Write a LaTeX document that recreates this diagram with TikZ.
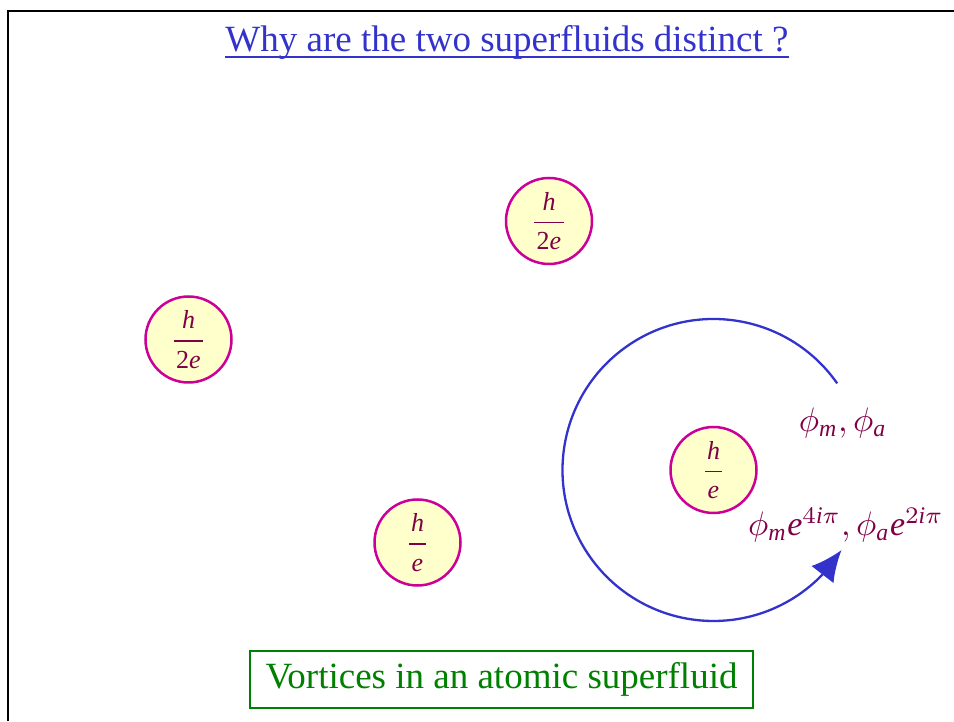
\documentclass[tikz,border=0pt]{standalone}
\usepackage{graphicx}
\usepackage{fontspec}
\usepackage{amsmath}
\setmainfont{Liberation Serif}
\usetikzlibrary{arrows.meta,bending}
\definecolor{titleblue}{RGB}{51,51,204}
\definecolor{maroon}{RGB}{128,0,70}
\definecolor{vborder}{RGB}{204,0,153}
\definecolor{vfill}{RGB}{255,255,204}
\definecolor{boxgreen}{RGB}{0,128,0}
\newcommand{\vortfrac}[2]{\scalebox{2.6}{$\displaystyle\genfrac{}{}{0.65pt}{0}{\raisebox{0.5pt}{\makebox[#1]{\textit{h}}}}{\raisebox{-1.1pt}{\makebox[#1]{#2}}}$}}
\newcommand{\biglbl}[1]{\scalebox{3.4}{$#1$}}
\begin{document}
\begin{tikzpicture}[x=1pt,y=1pt,
  vortex/.style={circle,draw=vborder,fill=vfill,line width=2.5pt,minimum size=86pt,inner sep=0pt,text=maroon,font=\fontsize{10}{12}\selectfont},
  lbl/.style={text=maroon,font=\fontsize{10}{12}\selectfont,inner sep=0pt},
  bigtext/.style={font=\fontsize{37}{44}\selectfont},
  frameline/.style={line width=2pt,black}]
\useasboundingbox (0,0) rectangle (954,721);
% frame
\coordinate (fbl) at (8,0);
\coordinate (ftl) at (8,710);
\coordinate (ftr) at (954,710);
\draw[frameline] (fbl) -- (ftl) -- (ftr);
% title
\node[anchor=base,inner sep=0pt,text=titleblue,bigtext] (title) at (507,669) {Why are the two superfluids distinct ?};
\draw[titleblue,line width=1.8pt] ([yshift=-5pt]title.base west) -- ([yshift=-5pt]title.base east);
% vortices
\node[vortex] (v1) at (549,500) {\vortfrac{11.2pt}{2\textit{e}}};
\node[vortex] (v2) at (188.5,381.5) {\vortfrac{11.2pt}{2\textit{e}}};
\node[vortex] (v3) at (417.5,178.5) {\vortfrac{6.2pt}{\textit{e}}};
\node[vortex] (v4) at (713.5,251) {\vortfrac{6.2pt}{\textit{e}}};
% circulation arrow
\draw[titleblue,line width=2.3pt,-{Latex[length=31pt,width=28pt]}] ([shift={(35:151)}]v4.center) arc[start angle=35,end angle=328,radius=151];
% labels
\node[lbl] (l1) at (843,298) {\biglbl{\phi_{\textit{m}},\phi_{\textit{a}}}};
\node[lbl] (l2) at (846,196) {\biglbl{\phi_{\textit{m}}\textit{e}^{4\textit{i}\pi},\phi_{\textit{a}}\textit{e}^{2\textit{i}\pi}}};
% caption
\node[draw=boxgreen,line width=2.5pt,text=boxgreen,minimum width=503pt,minimum height=57pt,bigtext,inner sep=0pt] (caption) at (501.5,41.5) {Vortices in an atomic superfluid};
\end{tikzpicture}
\end{document}
